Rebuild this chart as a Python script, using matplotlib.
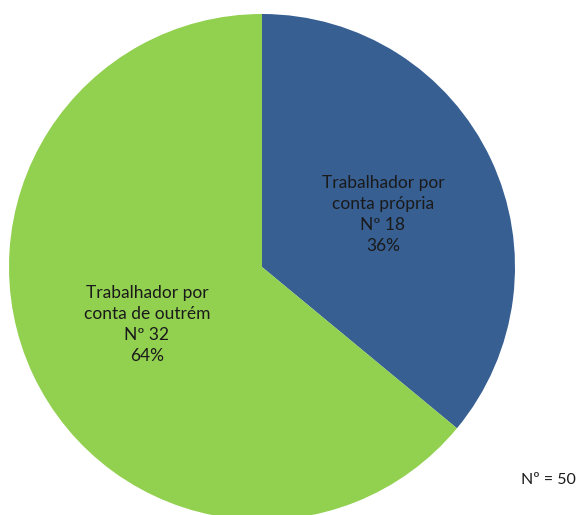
import matplotlib.pyplot as plt

labels = ['Trabalhador por\nconta própria', 'Trabalhador por\nconta de outrém']
counts = [18, 32]
colors = ['#375F92', '#92D050']
total = sum(counts)

plt.rcParams['font.family'] = ['Lato', 'DejaVu Sans']

fig = plt.figure(figsize=(5.79, 5.15), dpi=100)
ax = fig.add_axes([0, 0, 1, 1])

wedges, _ = ax.pie(counts, colors=colors, startangle=90, counterclock=False,
                   radius=1, center=(0, 0))

# label positions (data coords, radius = 1)
label_pos = [(0.478, 0.207), (-0.455, -0.226)]
for lab, n, (x, y) in zip(labels, counts, label_pos):
    pct = round(100 * n / total)
    ax.text(x, y, '%s\nNº %d\n%d%%' % (lab, n, pct), ha='center', va='center',
            fontsize=12.5, linespacing=1.38, color='#1a1a1a')

ax.set_xlim(-262 / 253, (579 - 262) / 253)
ax.set_ylim((267 - 515) / 253, 267 / 253)
ax.set_aspect('auto')
ax.axis('off')

fig.text(576 / 579, 1 - 480 / 515, 'Nº = %d' % total, ha='right', va='center',
         fontsize=11.5, color='#1a1a1a')

fig.savefig('out.png', dpi=100)
